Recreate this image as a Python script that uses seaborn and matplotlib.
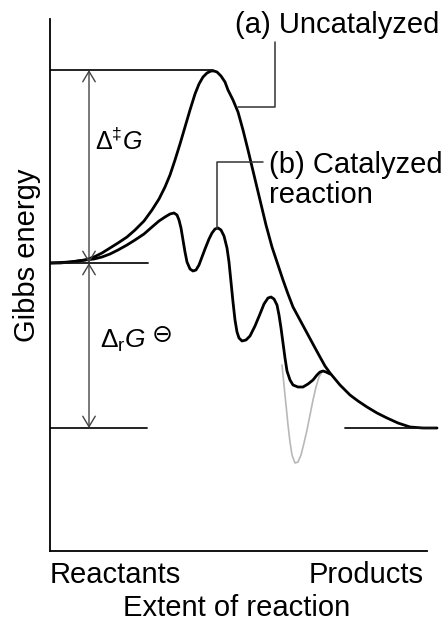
import matplotlib
matplotlib.use("Agg")
import matplotlib.pyplot as plt
import seaborn as sns
import pandas as pd

# ---- data (schematic units: x = extent of reaction, y = Gibbs energy) ----
uncat_x = [0, 10, 20, 28, 35, 44, 52, 60, 68, 77, 85, 94, 102, 109, 115, 120, 125, 130, 135, 140,
           145, 149, 153, 157, 161, 164, 167, 171, 175, 178, 183, 188, 193, 198, 204, 210, 216, 222,
           228, 233, 238, 243, 250, 257, 264, 270, 275, 280, 290, 300, 308, 317, 327, 337, 348, 360,
           373, 387]
uncat_y = [288, 288, 289, 290, 291, 294, 298, 303, 308, 314, 321, 330, 341, 352, 364, 376, 391, 407,
           424, 441, 457, 467, 474, 478, 480, 480, 479, 475, 469, 461, 451, 439, 421, 401, 376, 351,
           326, 304, 286, 271, 257, 244, 231, 218, 205, 194, 185, 178, 166, 156, 150, 144, 138, 133,
           128, 124, 123, 123]

cat_x = [0, 20, 35, 44, 52, 60, 68, 77, 85, 94, 102, 109, 115, 120, 124, 127, 129, 131, 133, 135,
         137, 140, 143, 146, 149, 152, 155, 159, 162, 165, 168, 171, 174, 177, 179, 181, 183, 185,
         187, 189, 192, 196, 200, 205, 210, 214, 218, 221, 224, 227, 229, 231, 233, 235, 237, 240,
         243, 248, 253, 258, 263, 267, 270, 273, 276, 280]
cat_y = [288, 289, 291, 292, 294, 297, 301, 306, 311, 317, 324, 330, 334, 337, 338, 336, 331, 323,
         311, 299, 289, 282, 280, 281, 286, 294, 302, 312, 318, 322, 323, 321, 315, 303, 289, 269,
         249, 231, 219, 213, 210, 211, 215, 225, 237, 247, 253, 254, 252, 246, 236, 223, 208, 193,
         180, 171, 166, 164, 164, 167, 171, 176, 179, 180, 179, 177]

alt_x = [232, 234, 236, 238, 240, 242, 245, 248, 251, 254, 257, 260, 263, 266, 269, 272]
alt_y = [186, 166, 146, 126, 109, 96, 88, 89, 96, 108, 121, 136, 151, 164, 174, 179]

level_ts = 481
level_reactants = 288
level_products = 123

x_labels = ["Reactants", "Products"]
x_title = "Extent of reaction"
y_title = "Gibbs energy"
label_a = "(a) Uncatalyzed"
label_b = ["(b) Catalyzed", "reaction"]

# ---- figure ----
sns.set_style("white")
plt.rcParams["font.family"] = ["Liberation Sans", "DejaVu Sans"]
plt.rcParams["text.color"] = "black"
plt.rcParams["mathtext.fontset"] = "custom"
plt.rcParams["mathtext.rm"] = "Liberation Sans"
plt.rcParams["mathtext.it"] = "Liberation Sans:italic"
plt.rcParams["mathtext.bf"] = "Liberation Sans:bold"

fig = plt.figure(figsize=(4.44, 6.24), dpi=100)
ax = fig.add_axes([50 / 444, 73 / 624, 390 / 444, 532 / 624])
ax.set_xlim(0, 390)
ax.set_ylim(0, 532)

df_u = pd.DataFrame({"x": uncat_x, "y": uncat_y})
df_c = pd.DataFrame({"x": cat_x, "y": cat_y})
df_g = pd.DataFrame({"x": alt_x, "y": alt_y})

common = dict(sort=False, estimator=None, ax=ax, solid_joinstyle="round", solid_capstyle="round")
sns.lineplot(data=df_g, x="x", y="y", color="#b8b8b8", lw=1.2, **common)
sns.lineplot(data=df_c, x="x", y="y", color="black", lw=2.0, **common)
sns.lineplot(data=df_u, x="x", y="y", color="black", lw=2.0, **common)

# energy levels
lc = "#111111"
ax.plot([0, 163], [level_ts, level_ts], color=lc, lw=1.3)
ax.plot([0, 98], [level_reactants, level_reactants], color=lc, lw=1.3)
ax.plot([0, 97], [level_products, level_products], color=lc, lw=1.3)
ax.plot([295, 385], [level_products, level_products], color=lc, lw=1.3)

# arrows
arrow_x = 39
astyle = dict(arrowstyle="<->,head_length=0.75,head_width=0.45", color="#444444",
              lw=1.0, shrinkA=0, shrinkB=0)
ax.annotate("", xy=(arrow_x, level_ts), xytext=(arrow_x, level_reactants), arrowprops=astyle)
ax.annotate("", xy=(arrow_x, level_products), xytext=(arrow_x, level_reactants), arrowprops=astyle)

ax.text(45, 401, r"$\Delta^{\ddagger}G$", fontsize=18, ha="left", va="baseline")
ax.text(50, 203, r"$\Delta_{\mathrm{r}}G$", fontsize=19, ha="left", va="baseline")
ax.text(102, 216, "\u2296", fontsize=18, ha="left", va="center", family=["DejaVu Sans"])

# leader lines
ax.plot([225, 225, 188], [509, 444, 444], color="#333333", lw=1.1)
ax.plot([167, 167, 213], [322, 389, 389], color="#333333", lw=1.1)

fs = 21
ax.text(185, 518, label_a, fontsize=fs, ha="left", va="baseline")
ax.text(219, 378, label_b[0], fontsize=fs, ha="left", va="baseline")
ax.text(219, 348, label_b[1], fontsize=fs, ha="left", va="baseline")

# axis labels
ax.text(0, -32, x_labels[0], fontsize=fs, ha="left", va="baseline", clip_on=False)
ax.text(374, -32, x_labels[1], fontsize=fs, ha="right", va="baseline", clip_on=False)
ax.text(187, -65, x_title, fontsize=fs, ha="center", va="baseline", clip_on=False)
ax.text(-23, 296, y_title, fontsize=fs, ha="center", va="center", rotation=90, clip_on=False)

ax.set_xticks([])
ax.set_yticks([])
ax.set_xlabel("")
ax.set_ylabel("")
for s in ["top", "right"]:
    ax.spines[s].set_visible(False)
for s in ["left", "bottom"]:
    ax.spines[s].set_color("black")
    ax.spines[s].set_linewidth(1.3)
ax.spines["bottom"].set_bounds(0, 377)

fig.savefig("out.png", dpi=100)
